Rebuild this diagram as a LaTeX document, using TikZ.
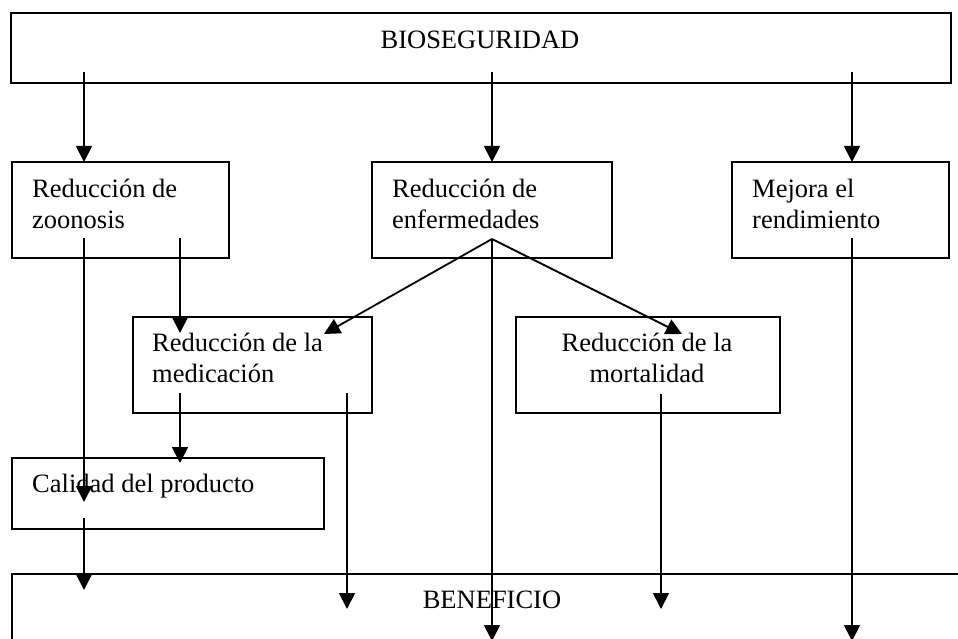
\documentclass[tikz,border=0pt]{standalone}
\usepackage{fontspec}
\setmainfont{Liberation Serif}
\usetikzlibrary{arrows.meta}
\begin{document}
\begin{tikzpicture}[x=1pt,y=-1pt,
  box/.style={draw, line width=1.8pt, inner sep=0pt, anchor=north west},
  lbl/.style={inner sep=0pt, font=\fontsize{26.5}{31}\selectfont},
  conn/.style={line width=1.8pt, -{Triangle[width=16pt,length=16pt]}}]
\useasboundingbox (0,0) rectangle (958,639);
\fill[white] (0,0) rectangle (958,639);
\begin{scope}
\clip (0,0) rectangle (958,639);
% boxes
\node[box, minimum width=940pt, minimum height=70pt] (bio) at (10,12) {};
\node[box, minimum width=217pt, minimum height=96pt] (zoo) at (11,161) {};
\node[box, minimum width=240pt, minimum height=96pt] (enf) at (371,161) {};
\node[box, minimum width=217pt, minimum height=96pt] (ren) at (731,161) {};
\node[box, minimum width=239pt, minimum height=96pt] (med) at (132,316) {};
\node[box, minimum width=264pt, minimum height=96pt] (mor) at (515,316) {};
\node[box, minimum width=312pt, minimum height=71pt] (cal) at (11,457) {};
\node[box, minimum width=980pt, minimum height=120pt] (ben) at (11,573) {};
% texts
\node[lbl] (tbio) at (480,40) {BIOSEGURIDAD};
\node[lbl, anchor=west, align=left] (tzoo) at (32,204) {Reducción de\\zoonosis};
\node[lbl, anchor=west, align=left] (tenf) at (392,204) {Reducción de\\enfermedades};
\node[lbl, anchor=west, align=left] (tren) at (752,204) {Mejora el\\rendimiento};
\node[lbl, anchor=west, align=left] (tmed) at (152,358) {Reducción de la\\medicación};
\node[lbl, align=center] (tmor) at (647,358) {Reducción de la\\mortalidad};
\node[lbl, anchor=west] (tcal) at (32,486) {Calidad del producto};
\node[lbl] (tben) at (492,600) {BENEFICIO};
% connector end points
\coordinate (b1) at (84,72);
\coordinate (b2) at (492,72);
\coordinate (b3) at (852,72);
\coordinate (z1) at (84,162);
\coordinate (e1) at (492,162);
\coordinate (r1) at (852,162);
\coordinate (zs1) at (84,238);
\coordinate (zs2) at (180,238);
\coordinate (es) at (492,239);
\coordinate (rs) at (852,238);
\coordinate (mt1) at (180,333);
\coordinate (mt2) at (324,334);
\coordinate (mo) at (682,334);
\coordinate (ms1) at (180,393);
\coordinate (ms2) at (347,393);
\coordinate (mos) at (661,394);
\coordinate (ct1) at (180,463);
\coordinate (ct2) at (84,502);
\coordinate (cs) at (84,518);
\coordinate (bt1) at (84,590);
\coordinate (bt2) at (347,609);
\coordinate (bt3) at (661,609);
\coordinate (bt4) at (492,641);
\coordinate (bt5) at (852,641);
% connectors
\draw[conn] (b1) -- (z1);
\draw[conn] (b2) -- (e1);
\draw[conn] (b3) -- (r1);
\draw[conn] (zs1) -- (ct2);
\draw[conn] (zs2) -- (mt1);
\draw[conn] (es) -- (mt2);
\draw[conn] (es) -- (mo);
\draw[conn] (es) -- (bt4);
\draw[conn] (rs) -- (bt5);
\draw[conn] (ms1) -- (ct1);
\draw[conn] (ms2) -- (bt2);
\draw[conn] (mos) -- (bt3);
\draw[conn] (cs) -- (bt1);
\end{scope}
\end{tikzpicture}
\end{document}
